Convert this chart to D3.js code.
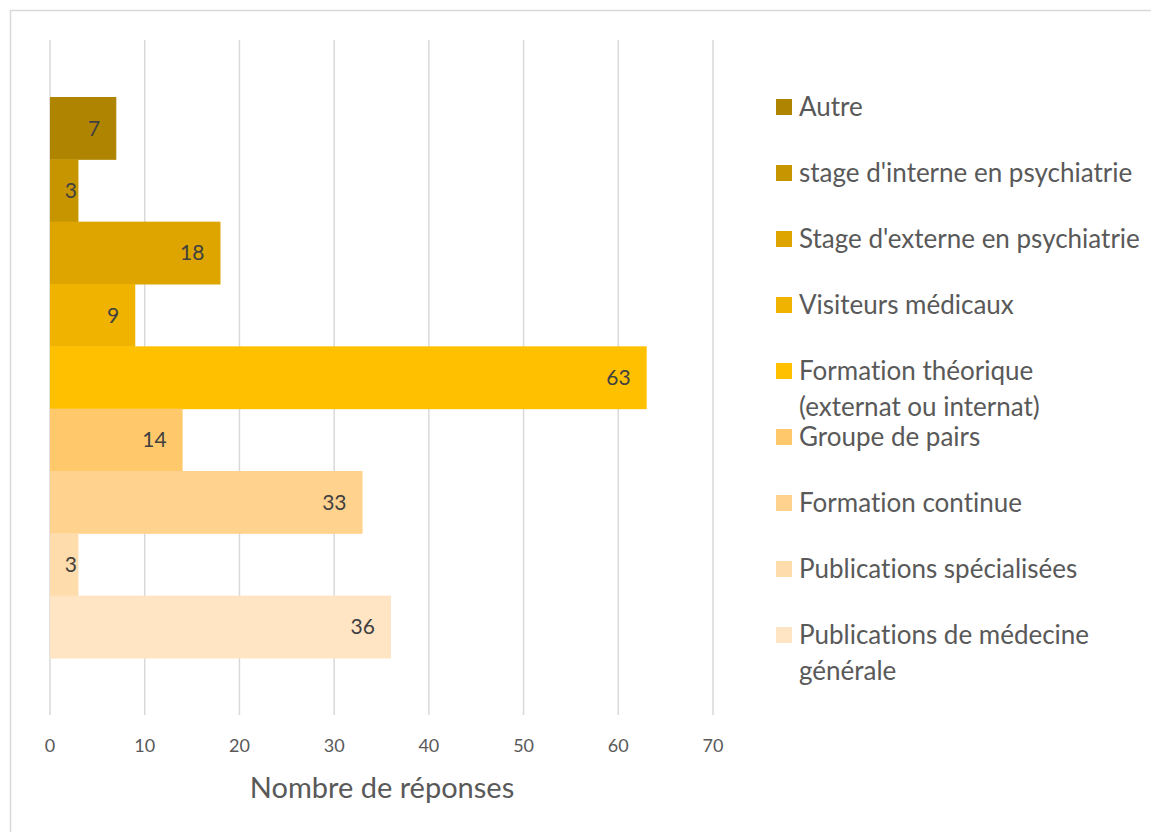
<!DOCTYPE html>
<html><head><meta charset="utf-8">
<script src="https://cdn.jsdelivr.net/npm/d3@7"></script>
<style>body{margin:0;background:#fff;} svg{display:block;} text{font-variant-ligatures:none;}</style>
</head><body>
<svg id="chart" width="1151" height="832"></svg>
<script>
const categories = ["Autre","stage d'interne en psychiatrie","Stage d'externe en psychiatrie","Visiteurs médicaux","Formation théorique (externat ou internat)","Groupe de pairs","Formation continue","Publications spécialisées","Publications de médecine générale"];
const legendLines = [["Autre"],["stage d'interne en psychiatrie"],["Stage d'externe en psychiatrie"],["Visiteurs médicaux"],["Formation théorique","(externat ou internat)"],["Groupe de pairs"],["Formation continue"],["Publications spécialisées"],["Publications de médecine","générale"]];
const values = [7,3,18,9,63,14,33,3,36];
const colors = ["#AF8400","#C79500","#DEA500","#F0B300","#FFC000","#FFC96B","#FFD28E","#FFDCAB","#FFE5C4"];
const xTicks = [0,10,20,30,40,50,60,70];
const axisTitle = "Nombre de réponses";

const svg = d3.select("#chart");
const font = "Lato, 'Open Sans', sans-serif";
svg.append("rect").attr("x",10.5).attr("y",10.5).attr("width",1300).attr("height",1000)
  .attr("fill","#fff").attr("stroke","#d9d9d9").attr("stroke-width",1.5);

const x = d3.scaleLinear().domain([0,70]).range([50,713]);
const y = d3.scaleBand().domain(categories).range([97,658]).padding(0);

svg.append("g").selectAll("line").data(xTicks).join("line")
  .attr("x1",d=>x(d)).attr("x2",d=>x(d)).attr("y1",40).attr("y2",715)
  .attr("stroke","#d9d9d9").attr("stroke-width",1.5);

svg.append("g").selectAll("rect").data(values).join("rect")
  .attr("x",x(0)).attr("y",(d,i)=>y(categories[i]))
  .attr("width",d=>x(d)-x(0)).attr("height",y.bandwidth()+0.5)
  .attr("fill",(d,i)=>colors[i]);

svg.append("g").selectAll("text").data(values).join("text")
  .attr("x",d=>Math.max(x(d)-16, x(0)+27)).attr("y",(d,i)=>y(categories[i])+y.bandwidth()/2)
  .attr("dy","0.35em").attr("text-anchor","end")
  .attr("font-family",font).attr("font-size",21).attr("fill","#404040")
  .text(d=>d);

const xAxis = svg.append("g").attr("transform","translate(0,746)");
xAxis.selectAll("text").data(xTicks).join("text")
  .attr("x",d=>x(d)).attr("dy","0.35em").attr("text-anchor","middle")
  .attr("font-family",font).attr("font-size",18).attr("fill","#595959").text(d=>d);

svg.append("text").attr("x",382).attr("y",788).attr("dy","0.35em").attr("text-anchor","middle")
  .attr("font-family",font).attr("font-size",29).attr("fill","#595959").text(axisTitle);

const legY = [107,173,239,305,371,437,503,569,635];
const leg = svg.append("g");
legendLines.forEach((lines,i)=>{
  leg.append("rect").attr("x",776).attr("y",legY[i]-8).attr("width",16).attr("height",16).attr("fill",colors[i]);
  const t = leg.append("text").attr("x",799).attr("y",legY[i])
    .attr("font-family",font).attr("font-size",26).attr("fill","#595959");
  lines.forEach((l,j)=>{
    t.append("tspan").attr("x",799).attr("dy", j===0?"0.35em":"36px").text(l);
  });
});
</script>
</body></html>
